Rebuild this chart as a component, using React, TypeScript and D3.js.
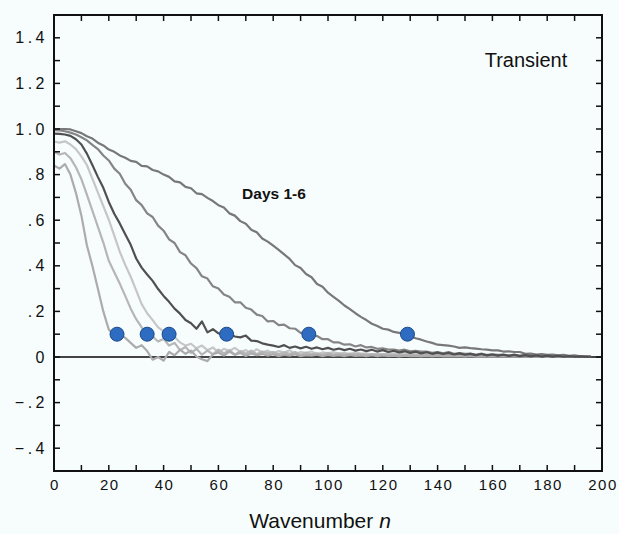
import React from "react";
import { scaleLinear, line, range } from "d3";

// spectra for days 1-6, sampled every 2 wavenumbers from n = 0 to 196
const day1 = [
  1.0, 1.0, 1.0, 0.998, 0.99, 0.982, 0.968, 0.958, 0.94, 0.928,
  0.91, 0.9, 0.884, 0.874, 0.86, 0.856, 0.838, 0.836, 0.82, 0.814,
  0.8, 0.79, 0.77, 0.766, 0.746, 0.74, 0.718, 0.714, 0.698, 0.684,
  0.666, 0.656, 0.63, 0.62, 0.596, 0.584, 0.558, 0.547, 0.52, 0.506,
  0.488, 0.47, 0.45, 0.43, 0.403, 0.39, 0.364, 0.35, 0.32, 0.308,
  0.282, 0.264, 0.246, 0.226, 0.21, 0.192, 0.176, 0.162, 0.146, 0.136,
  0.124, 0.12, 0.11, 0.106, 0.1, 0.09, 0.082, 0.076, 0.068, 0.062,
  0.054, 0.052, 0.05, 0.046, 0.04, 0.042, 0.039, 0.037, 0.034, 0.032,
  0.029, 0.029, 0.024, 0.025, 0.022, 0.022, 0.014, 0.015, 0.011, 0.013,
  0.009, 0.011, 0.007, 0.009, 0.005, 0.007, 0.003, 0.004, 0.002,
];
const day2 = [
  0.995, 0.994, 0.99, 0.984, 0.976, 0.964, 0.95, 0.93, 0.912, 0.884,
  0.862, 0.826, 0.804, 0.76, 0.734, 0.688, 0.666, 0.63, 0.614, 0.576,
  0.554, 0.516, 0.5, 0.46, 0.446, 0.41, 0.39, 0.354, 0.344, 0.31,
  0.3, 0.274, 0.264, 0.24, 0.24, 0.216, 0.208, 0.186, 0.18, 0.156,
  0.158, 0.14, 0.142, 0.126, 0.124, 0.106, 0.106, 0.094, 0.092, 0.078,
  0.078, 0.064, 0.064, 0.054, 0.056, 0.046, 0.052, 0.042, 0.044, 0.036,
  0.038, 0.033, 0.033, 0.028, 0.032, 0.025, 0.027, 0.024, 0.024, 0.018,
  0.022, 0.016, 0.022, 0.014, 0.017, 0.014, 0.015, 0.01, 0.015, 0.009,
  0.012, 0.009, 0.011, 0.006, 0.011, 0.005, 0.008, 0.005, 0.007, 0.003,
  0.006, 0.003, 0.006, 0.002, 0.004, 0.001, 0.003, 0.001, 0.001,
];
const day3 = [
  0.98, 0.979, 0.976, 0.97, 0.955, 0.932, 0.892, 0.842, 0.79, 0.742,
  0.68, 0.628, 0.586, 0.538, 0.492, 0.432, 0.392, 0.362, 0.334, 0.298,
  0.268, 0.242, 0.212, 0.19, 0.162, 0.148, 0.124, 0.156, 0.108, 0.122,
  0.104, 0.096, 0.1, 0.09, 0.086, 0.094, 0.072, 0.07, 0.06, 0.054,
  0.05, 0.044, 0.052, 0.04, 0.046, 0.038, 0.045, 0.036, 0.042, 0.034,
  0.04, 0.032, 0.037, 0.03, 0.036, 0.028, 0.033, 0.026, 0.032, 0.024,
  0.03, 0.022, 0.027, 0.02, 0.025, 0.018, 0.023, 0.016, 0.021, 0.014,
  0.019, 0.013, 0.018, 0.011, 0.016, 0.01, 0.014, 0.008, 0.013, 0.007,
  0.011, 0.006, 0.01, 0.005, 0.009, 0.004, 0.008, 0.003, 0.007, 0.002,
  0.006, 0.002, 0.005, 0.001, 0.004, 0.001, 0.003, 0.0, 0.001,
];
const day4 = [
  0.945, 0.94, 0.946, 0.932, 0.912, 0.88, 0.842, 0.782, 0.722, 0.662,
  0.602, 0.532, 0.462, 0.404, 0.352, 0.292, 0.232, 0.192, 0.162, 0.13,
  0.112, 0.1, 0.088, 0.064, 0.05, 0.058, 0.038, 0.05, 0.03, 0.042,
  0.02, 0.036, 0.026, 0.04, 0.022, 0.03, 0.018, 0.034, 0.02, 0.028,
  0.016, 0.026, 0.02, 0.03, 0.014, 0.022, 0.018, 0.024, 0.012, 0.02,
  0.016, 0.022, 0.014, 0.018, 0.012, 0.02, 0.014, 0.016, 0.01, 0.016,
  0.012, 0.015, 0.01, 0.014, 0.011, 0.013, 0.009, 0.012, 0.01, 0.011,
  0.008, 0.01, 0.009, 0.01, 0.007, 0.009, 0.008, 0.008, 0.006, 0.008,
  0.006, 0.007, 0.005, 0.006, 0.005, 0.006, 0.004, 0.005, 0.004, 0.004,
  0.003, 0.004, 0.003, 0.002, 0.003, 0.002, 0.002, 0.001, 0.001,
];
const day5 = [
  0.9, 0.888, 0.895, 0.872, 0.832, 0.78, 0.712, 0.642, 0.572, 0.502,
  0.422, 0.372, 0.322, 0.268, 0.212, 0.166, 0.13, 0.1, 0.09, 0.068,
  0.08, 0.05, 0.062, 0.03, 0.044, 0.018, 0.036, 0.01, 0.028, 0.012,
  0.032, 0.016, 0.03, 0.01, 0.026, 0.014, 0.028, 0.012, 0.024, 0.016,
  0.022, 0.012, 0.02, 0.014, 0.022, 0.01, 0.018, 0.012, 0.016, 0.01,
  0.018, 0.011, 0.016, 0.01, 0.015, 0.012, 0.014, 0.009, 0.013, 0.01,
  0.012, 0.009, 0.012, 0.008, 0.011, 0.009, 0.01, 0.007, 0.01, 0.008,
  0.009, 0.007, 0.008, 0.006, 0.008, 0.006, 0.007, 0.005, 0.007, 0.005,
  0.006, 0.005, 0.005, 0.004, 0.005, 0.004, 0.004, 0.003, 0.004, 0.003,
  0.003, 0.003, 0.002, 0.002, 0.002, 0.002, 0.001, 0.001, 0.001,
];
const day6 = [
  0.84, 0.826, 0.846, 0.8, 0.72, 0.62, 0.49, 0.4, 0.3, 0.2,
  0.12, 0.098, 0.1, 0.084, 0.062, 0.04, 0.052, 0.026, -0.012, 0.0,
  -0.016, 0.022, 0.008, 0.032, 0.014, 0.028, 0.002, -0.01, -0.018, 0.012,
  0.02, 0.006, 0.024, 0.01, 0.018, 0.004, 0.016, 0.008, 0.014, 0.006,
  0.012, 0.004, 0.01, 0.006, 0.012, 0.004, 0.008, 0.006, 0.01, 0.004,
  0.009, 0.005, 0.008, 0.004, 0.009, 0.005, 0.007, 0.004, 0.008, 0.004,
  0.007, 0.004, 0.006, 0.003, 0.006, 0.004, 0.005, 0.003, 0.005, 0.003,
  0.005, 0.003, 0.004, 0.003, 0.004, 0.002, 0.004, 0.002, 0.003, 0.002,
  0.003, 0.002, 0.003, 0.002, 0.002, 0.002, 0.002, 0.001, 0.002, 0.001,
  0.001, 0.001, 0.001, 0.001, 0.001, 0.0, 0.001, 0.0, 0.0,
];

const series = [
  { name: "Day 4", values: day4, color: "#c6c6c6" },
  { name: "Day 5", values: day5, color: "#b6b6b6" },
  { name: "Day 6", values: day6, color: "#acacac" },
  { name: "Day 2", values: day2, color: "#858585" },
  { name: "Day 1", values: day1, color: "#787878" },
  { name: "Day 3", values: day3, color: "#505050" },
];

// wavenumber where each day's spectrum drops to 0.1
const dotN = [23, 34, 42, 63, 93, 129];
const dotLevel = 0.1;

const xTicks = [0, 20, 40, 60, 80, 100, 120, 140, 160, 180, 200];
const yTicks = [-0.4, -0.2, 0, 0.2, 0.4, 0.6, 0.8, 1.0, 1.2, 1.4];
const yLabels = ["\u2212.4", "\u2212.2", "0", ".2", ".4", ".6", ".8", "1.0", "1.2", "1.4"];

const W = 619;
const H = 534;
const left = 54;
const right = 602;
const top = 15;
const bottom = 471;

export default function App() {
  const x = scaleLinear().domain([0, 200]).range([left, right]);
  const y = scaleLinear().domain([-0.5, 1.5]).range([bottom, top]);
  const n = range(0, 197, 2);

  const lineGen = line<number>()
    .x((d, i) => x(n[i]))
    .y((d) => y(d));

  const xMinor = range(0, 201, 10);
  const yMinor = range(-5, 16).map((d) => d / 10);
  const tick = 6;

  return (
    <svg
      width={W}
      height={H}
      style={{ position: "absolute", left: 0, top: 0, background: "#f7fdfd" }}
      fontFamily="Liberation Sans, Arial, sans-serif"
    >
      <rect x={0} y={0} width={W} height={H} fill="#f7fdfd" />

      {/* zero line */}
      <line x1={left} x2={right} y1={y(0)} y2={y(0)} stroke="#444" strokeWidth={2} />

      {series.map((s) => (
        <path
          key={s.name}
          d={lineGen(s.values) || ""}
          fill="none"
          stroke={s.color}
          strokeWidth={2.2}
          strokeLinejoin="round"
        />
      ))}

      {dotN.map((d) => (
        <circle key={d} cx={x(d)} cy={y(dotLevel)} r={7} fill="#2d6cc0" stroke="#1d4a8c" strokeWidth={1} />
      ))}

      {/* frame and inward ticks */}
      <rect x={left} y={top} width={right - left} height={bottom - top} fill="none" stroke="#111" strokeWidth={2} />
      {xMinor.map((t) => (
        <g key={"x" + t} stroke="#111" strokeWidth={1.5}>
          <line x1={x(t)} x2={x(t)} y1={bottom} y2={bottom - tick} />
          <line x1={x(t)} x2={x(t)} y1={top} y2={top + tick} />
        </g>
      ))}
      {yMinor.map((t) => (
        <g key={"y" + t} stroke="#111" strokeWidth={1.5}>
          <line x1={left} x2={left + tick} y1={y(t)} y2={y(t)} />
          <line x1={right} x2={right - tick} y1={y(t)} y2={y(t)} />
        </g>
      ))}

      {xTicks.map((t) => (
        <text key={"xl" + t} x={x(t) + 1} y={490} textAnchor="middle" fontSize={15} letterSpacing={1.5} fill="#111">
          {t}
        </text>
      ))}
      {yTicks.map((t, i) => (
        <text
          key={"yl" + t}
          x={48}
          y={y(t)}
          dy="0.35em"
          textAnchor="end"
          fontSize={16}
          letterSpacing={3.5}
          fill="#111"
        >
          {yLabels[i]}
        </text>
      ))}

      <text x={320} y={528} textAnchor="middle" fontSize={21} fill="#111">
        Wavenumber <tspan fontStyle="italic">n</tspan>
      </text>
      <text x={526} y={67} textAnchor="middle" fontSize={20} fill="#111">
        Transient
      </text>
      <text x={274} y={199} textAnchor="middle" fontSize={15.5} fontWeight="bold" fill="#111">
        Days 1-6
      </text>
    </svg>
  );
}
